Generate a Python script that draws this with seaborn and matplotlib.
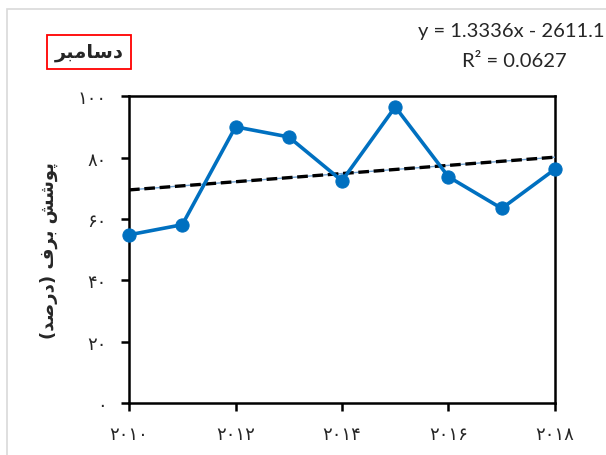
import numpy as np
import pandas as pd
import seaborn as sns
import matplotlib.pyplot as plt
from matplotlib.patches import Rectangle

# data
years = [2010, 2011, 2012, 2013, 2014, 2015, 2016, 2017, 2018]
snow_cover = [54.8, 58.1, 90.0, 86.7, 72.4, 96.5, 73.7, 63.4, 76.2]
slope, intercept = 1.3336, -2611.1
r2 = 0.0627

y_ticks = [0, 20, 40, 60, 80, 100]
y_tick_labels = ["۰", "۲۰", "۴۰", "۶۰", "۸۰", "۱۰۰"]
x_ticks = [2010, 2012, 2014, 2016, 2018]
x_tick_labels = ["۲۰۱۰", "۲۰۱۲", "۲۰۱۴", "۲۰۱۶", "۲۰۱۸"]

# matplotlib does no arabic shaping, so the strings are given in
# presentation forms and visual (left to right) order
title_txt = "\uFEAE\uFE92\uFEE3\uFE8E\uFEB3\uFEA9"          # دسامبر
ylabel_txt = ("(\uFEAA\uFEBB\uFEAD\uFEA9) \uFED1\uFEAE\uFE91 "
              "\uFEB6\uFEB7\uFEEE\uFB58")                   # پوشش برف (درصد)

df = pd.DataFrame({"year": years, "snow": snow_cover})
df["trend"] = slope * df["year"] + intercept

sns.set_style("white")
plt.rcParams['font.family'] = ['DejaVu Sans']

fig = plt.figure(figsize=(6.06, 4.56), dpi=100)
ax = fig.add_axes([0.2129, 0.114, 0.7029, 0.673])

sns.lineplot(data=df, x="year", y="trend", ax=ax, color="#6FA0D0",
             linewidth=1.0, zorder=3)
sns.lineplot(data=df, x="year", y="trend", ax=ax, color="black",
             linewidth=2.4, linestyle=(0, (3.2, 1.4)), zorder=4)
sns.lineplot(data=df, x="year", y="snow", ax=ax, color="#0070C0",
             linewidth=2.6, marker="o", markersize=9.5,
             markeredgecolor="#0070C0", zorder=5, clip_on=False)

ax.set_xlim(2010, 2018)
ax.set_ylim(0, 100)
ax.set_xticks(x_ticks)
ax.set_xticklabels(x_tick_labels, fontsize=13)
ax.set_yticks(y_ticks)
ax.set_yticklabels(y_tick_labels, fontsize=13)
ax.tick_params(axis="both", direction="out", length=6, width=1.8,
               color="black", bottom=True, left=True, pad=10)
ax.tick_params(axis="x", pad=10)
for s in ax.spines.values():
    s.set_color("black")
    s.set_linewidth(1.8)
ax.set_xlabel("")
ax.set_ylabel(ylabel_txt, fontsize=13, fontweight="bold", labelpad=14)

fig.text(0.147, 0.884, title_txt, fontsize=14, fontweight="bold",
         ha="center", va="center",
         bbox=dict(boxstyle="square,pad=0.38", fc="white", ec="#FF0000", lw=1.3))

fig.text(0.998, 0.932, f"y = {slope}x - {abs(intercept)}", fontsize=14.5,
         family="Lato", ha="right", va="center")
fig.text(0.935, 0.866, f"R² = {r2}", fontsize=14.5, family="Lato",
         ha="right", va="center")

fig.patches.append(Rectangle((7 / 606, -0.1), 1.0, 1.1 - 10 / 456,
                             transform=fig.transFigure, fill=False,
                             ec="#D9D9D9", lw=1.2))

fig.savefig("out.png", dpi=100)
